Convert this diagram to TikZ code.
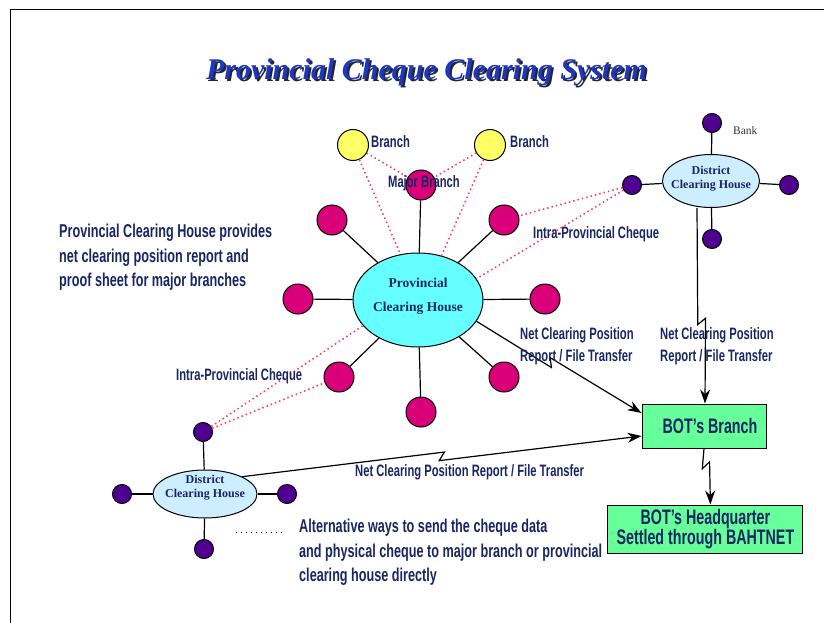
\documentclass[tikz,border=0pt]{standalone}
\usepackage{fontspec}
\setmainfont{Liberation Serif}
\newfontfamily\narrowsf{Liberation Sans}[FakeStretch=0.68]
\usepackage{tikz}
\usetikzlibrary{arrows.meta, positioning, calc, shapes.geometric}
\definecolor{navy}{RGB}{25,38,100}
\definecolor{titleblue}{RGB}{30,55,195}
\definecolor{majorc}{RGB}{218,0,122}
\definecolor{branchc}{RGB}{255,255,102}
\definecolor{bankc}{RGB}{80,0,145}
\definecolor{hubc}{RGB}{102,255,255}
\definecolor{distc}{RGB}{204,238,255}
\definecolor{botc}{RGB}{102,255,153}
\definecolor{dotc}{RGB}{255,50,90}
\tikzstyle{arrow} = [line width=1.2pt,-{Stealth[length=14pt,width=10pt]}]
\tikzstyle{spoke} = [line width=1.2pt]
\tikzstyle{cheque} = [dotc, line width=1.5pt, dash pattern=on 1.5pt off 3pt]
\tikzstyle{majorbr} = [circle, draw=black, fill=majorc, line width=1pt, minimum size=30pt, inner sep=0pt]
\tikzstyle{minorbr} = [circle, draw=black, fill=branchc, line width=1pt, minimum size=31pt, inner sep=0pt]
\tikzstyle{bankdot} = [circle, draw=black, fill=bankc, line width=1pt, minimum size=19pt, inner sep=0pt]
\tikzstyle{botbox} = [rectangle, draw=black, fill=botc, line width=1pt, text=navy, align=center,
  font=\narrowsf\bfseries\fontsize{21}{18.3}\selectfont]
\tikzstyle{lbl} = [text=navy, inner sep=0pt, align=left, font=\narrowsf\bfseries\fontsize{16.5}{22}\selectfont]
\tikzstyle{note} = [text=navy, inner sep=0pt, align=left, font=\narrowsf\bfseries\fontsize{18.6}{24.5}\selectfont]
\tikzset{
  house/.style = {ellipse, draw=black, line width=1pt, inner sep=0pt},
  housetext/.style = {text=navy, align=center, inner sep=0pt},
  titletext/.style = {inner sep=0pt, anchor=base, font=\bfseries\itshape\fontsize{30}{32}\selectfont},
  zig/.style 2 args = {to path={
      -- ($(\tikztostart)!#1!(\tikztotarget)!3pt!(\tikztotarget)!#2!90:(\tikztotarget)$)
      -- ($(\tikztostart)!#1!(\tikztotarget)!-3pt!(\tikztotarget)!#2!-90:(\tikztotarget)$)
      -- (\tikztotarget) \tikztonodes}}
}

\begin{document}
\begin{tikzpicture}[x=1pt, y=-1pt]
\useasboundingbox (0,0) rectangle (824,623);
\draw [line width=1pt] (10,10) rectangle (850,650);

%----------------------------------------------------------------------------
% Title
\node (titleShadow) [titletext, text=black!85] at (428.5,81.5) {Provincial Cheque Clearing System};
\node (title) [titletext, text=titleblue] at (426.5,79.5) {Provincial Cheque Clearing System};

%----------------------------------------------------------------------------
% Provincial clearing house and its branches
\node (hub) [house, fill=hubc, minimum width=130pt, minimum height=94pt,
  label={[housetext, yshift=4pt, font=\bfseries\fontsize{13.5}{24}\selectfont]center:{Provincial\\Clearing House}}] at (418,300) {};

\node (maj1) [majorbr] at (421,185) {};
\node (maj2) [majorbr] at (332,220) {};
\node (maj3) [majorbr] at (504,220) {};
\node (maj4) [majorbr] at (298,299) {};
\node (maj5) [majorbr] at (545,299) {};
\node (maj6) [majorbr] at (339,377) {};
\node (maj7) [majorbr] at (504,377) {};
\node (maj8) [majorbr] at (421,412) {};

\node (brL) [minorbr] at (353,145) {};
\node (brR) [minorbr] at (490,145) {};

%----------------------------------------------------------------------------
% District clearing houses and their banks
\node (dchTop) [house, fill=distc, minimum width=97pt, minimum height=53pt,
  label={[housetext, yshift=2pt, font=\bfseries\fontsize{12}{14}\selectfont]center:{District\\Clearing House}}] at (711,181) {};
\node (bankTopN) [bankdot] at (712,123) {};
\node (bankTopW) [bankdot] at (632,185) {};
\node (bankTopE) [bankdot] at (789,185) {};
\node (bankTopS) [bankdot] at (712,239) {};

\node (dchLow) [house, fill=distc, minimum width=104pt, minimum height=48pt,
  label={[housetext, yshift=6pt, font=\bfseries\fontsize{12}{14}\selectfont]center:{District\\Clearing House}}] at (205,494) {};
\node (bankLowN) [bankdot] at (203,432) {};
\node (bankLowW) [bankdot] at (122,494) {};
\node (bankLowE) [bankdot] at (287,494) {};
\node (bankLowS) [bankdot] at (204,549) {};

%----------------------------------------------------------------------------
% Bank of Thailand
\node (botBranch) [botbox, minimum width=124pt, minimum height=44pt] at (704,426) {\hspace*{12pt}BOT’s Branch};
\node (botHQ) [botbox, minimum width=195pt, minimum height=48pt] at (705.4,529) {BOT’s Headquarter\\Settled through BAHTNET};

%----------------------------------------------------------------------------
% Lines
\draw [cheque] (brL) -- (maj1);
\draw [cheque] (brL) -- (hub.111);
\draw [cheque] (brR) -- (maj1);
\draw [cheque] (brR) -- (hub.62);
\draw [cheque] (bankTopW) -- (maj3);
\draw [cheque] (bankTopW) -- (hub.20);
\draw [cheque] (bankLowN) -- (maj6);
\draw [cheque] (bankLowN) -- (hub.205);

\draw [spoke] (hub) -- (maj1);
\draw [spoke] (hub) -- (maj2);
\draw [spoke] (hub) -- (maj3);
\draw [spoke] (hub) -- (maj4);
\draw [spoke] (hub) -- (maj5);
\draw [spoke] (hub) -- (maj6);
\draw [spoke] (hub) -- (maj7);
\draw [spoke] (hub) -- (maj8);

\draw [spoke] (dchTop) -- (bankTopN);
\draw [spoke] (dchTop) -- (bankTopW);
\draw [spoke] (dchTop) -- (bankTopE);
\draw [spoke] (dchTop) -- (bankTopS);
\draw [spoke] (dchLow) -- (bankLowN);
\draw [spoke] (dchLow) -- (bankLowW);
\draw [spoke] (dchLow) -- (bankLowE);
\draw [spoke] (dchLow) -- (bankLowS);

\draw [arrow, zig={0.45}{-4pt}] (hub.-20) to ([yshift=13pt]botBranch.west);
\draw [arrow, zig={0.5}{4pt}] (dchLow.25) to ([yshift=-10pt]botBranch.west);
\draw [arrow, zig={0.58}{-4pt}] ([xshift=-14pt]dchTop.south) to ([xshift=1pt]botBranch.north);
\draw [arrow, zig={0.3}{-4pt}] (botBranch.south) to ([xshift=5pt]botHQ.north);

%----------------------------------------------------------------------------
% Labels
\node (lblBranchL) [lbl, anchor=west] at (371,142) {Branch};
\node (lblBranchR) [lbl, anchor=west] at (510,142) {Branch};
\node (lblMajor) [lbl] at (424,183) {Major Branch};
\node (lblBank) [anchor=west, inner sep=0pt, text=black!80, font=\fontsize{11.5}{13}\selectfont] at (733,131) {Bank};
\node (lblIntraUp) [lbl, anchor=west] at (533,234) {Intra-Provincial Cheque};
\node (lblIntraLow) [lbl, anchor=west] at (176,376) {Intra-Provincial Cheque};
\node (lblNetHub) [lbl, anchor=west] at (520,346) {Net Clearing Position\\Report / File Transfer};
\node (lblNetTop) [lbl, anchor=west] at (660,346) {Net Clearing Position\\Report / File Transfer};
\node (lblNetLow) [lbl, anchor=west] at (355,472) {Net Clearing Position Report / File Transfer};

%----------------------------------------------------------------------------
% Notes
\node (noteHub) [note, anchor=west] at (59,257.5) {Provincial Clearing House provides\\net clearing position report and\\proof sheet for major branches};
\coordinate (legStart) at (236,532);
\coordinate (legEnd) at (284,532);
\draw [line width=0.8pt, dash pattern=on 1pt off 4pt] (legStart) -- (legEnd);
\node (noteLegend) [note, anchor=west] at (299,552.7) {Alternative ways to send the cheque data\\and physical cheque to major branch or provincial\\clearing house directly};

\end{tikzpicture}
\end{document}
